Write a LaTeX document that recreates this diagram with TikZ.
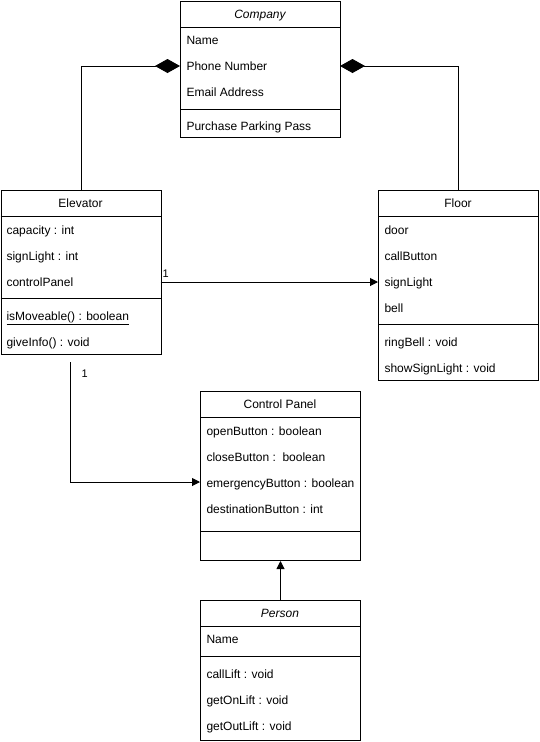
\documentclass[tikz,border=0pt]{standalone}
\usepackage{fontspec}
\setmainfont{Liberation Sans}
\usetikzlibrary{arrows.meta}
\begin{document}
\begin{tikzpicture}[x=1pt,y=-1pt,line width=1pt,
  txt/.style={font=\fontsize{12}{14}\selectfont,inner sep=0pt},
  attr/.style={txt,anchor=base west},
  head/.style={txt,anchor=base},
  lbl/.style={font=\fontsize{11}{13}\selectfont,inner sep=0pt,anchor=base west},
  umlbox/.style={draw,line width=1pt,anchor=north west,inner sep=0pt},
  comp/.style={-{Diamond[length=25pt,width=14pt]}},
  assoc/.style={-{Triangle[length=8pt,width=8pt]}}]
\useasboundingbox (0,0) rectangle (539,742);
% Company
\node[umlbox,minimum width=160pt,minimum height=136pt] (company) at (180,1) {};
\draw (180,27) -- (340,27);
\draw (180,109) -- (340,109);
\node[head] (companyH) at (260,18.5) {\itshape Company};
\node[attr] (cA1) at (186,44.5) {Name};
\node[attr] (cA2) at (186,70.5) {Phone Number};
\node[attr] (cA3) at (186,96.5) {Email Address};
\node[attr] (cM1) at (186,130.5) {Purchase Parking Pass};
% Elevator
\node[umlbox,minimum width=160pt,minimum height=164pt] (elevator) at (0.5,190) {};
\draw (0.5,216) -- (160.5,216);
\draw (0.5,298) -- (160.5,298);
\node[head] (elevatorH) at (80.5,207.5) {Elevator};
\node[attr] (eA1) at (6,234.5) {capacity : int};
\node[attr] (eA2) at (6,260.5) {signLight : int};
\node[attr] (eA3) at (6,286.5) {controlPanel};
\node[attr] (eM1) at (6,320.5) {\underline{isMoveable() : boolean}};
\node[attr] (eM2) at (6,346.5) {giveInfo() : void};
% Floor
\node[umlbox,minimum width=160pt,minimum height=190pt] (floor) at (378,190) {};
\draw (378,216) -- (538,216);
\draw (378,324) -- (538,324);
\node[head] (floorH) at (458,207.5) {Floor};
\node[attr] (fA1) at (384,234.5) {door};
\node[attr] (fA2) at (384,260.5) {callButton};
\node[attr] (fA3) at (384,286.5) {signLight};
\node[attr] (fA4) at (384,312.5) {bell};
\node[attr] (fM1) at (384,346.5) {ringBell : void};
\node[attr] (fM2) at (384,372.5) {showSignLight : void};
% Control Panel
\node[umlbox,minimum width=160pt,minimum height=169pt] (cp) at (200,391) {};
\draw (200,417) -- (360,417);
\draw (200,531) -- (360,531);
\node[head] (cpH) at (280,408.5) {Control Panel};
\node[attr] (pA1) at (206,435.5) {openButton : boolean};
\node[attr] (pA2) at (206,461.5) {closeButton :\ \ boolean};
\node[attr] (pA3) at (206,487.5) {emergencyButton : boolean};
\node[attr] (pA4) at (206,513.5) {destinationButton : int};
% Person
\node[umlbox,minimum width=160pt,minimum height=140pt] (person) at (200,600) {};
\draw (200,626) -- (360,626);
\draw (200,656) -- (360,656);
\node[head] (personH) at (280,617.5) {\itshape Person};
\node[attr] (sA1) at (206,643.5) {Name};
\node[attr] (sM1) at (206,678.5) {callLift : void};
\node[attr] (sM2) at (206,704.5) {getOnLift : void};
\node[attr] (sM3) at (206,730.5) {getOutLift : void};
% connectors
\coordinate (cL) at (180,66);
\coordinate (cR) at (340,66);
\draw[comp] (elevator.north) |- (cL);
\draw[comp] (floor.north) |- (cR);
\coordinate (eR) at (160.5,282);
\coordinate (fL) at (378,282);
\draw[assoc] (eR) -- (fL);
\node[lbl] (l1) at (162,277.5) {1};
\coordinate (eB) at (70,362);
\coordinate (pL) at (200,482);
\draw[assoc] (eB) |- (pL);
\node[lbl] (l2) at (81,377) {1};
\draw[assoc] (person.north) -- (cp.south);
\end{tikzpicture}
\end{document}
